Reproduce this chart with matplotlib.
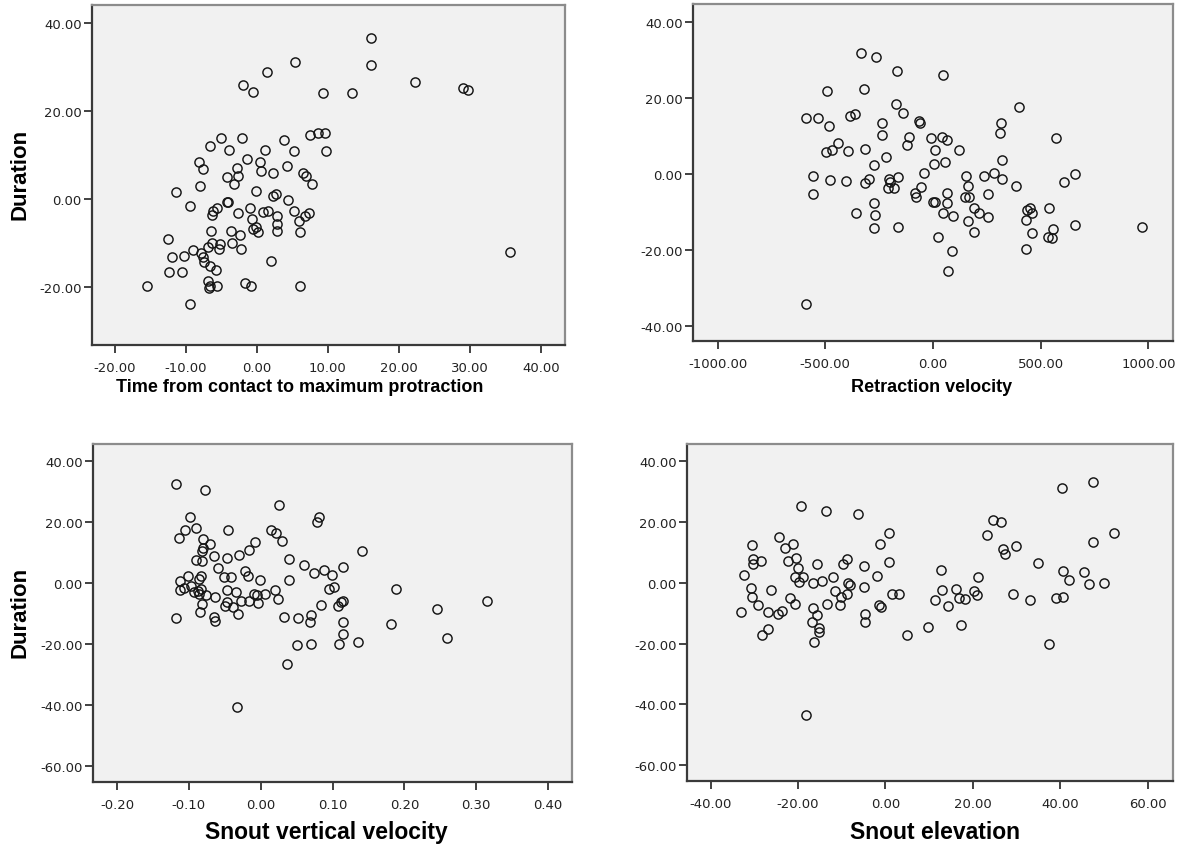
import numpy as np
import matplotlib
matplotlib.use("Agg")
import matplotlib.pyplot as plt
from matplotlib.ticker import FormatStrFormatter

# Duration vs. time from contact to maximum protraction
time_contact = [5.35, 1.41, -1.89, -0.48, 16.05, 16.1, 22.3, 29.1, 29.7, 9.36, 13.36, 7.53, 8.56, 9.65,
                9.69, 3.8, 5.2, 4.3, 6.5, 6.9, 7.8, 4.4, 5.3, 6.0, 6.1, 6.8, 7.3, 6.1, 35.7,
                2.02, -5.08, -6.6, -2.08, -3.87, 1.13, -8.1, -7.54, -1.41, 0.47, 0.56, 2.26, -2.74,
                -4.15, -2.6, -3.25, -8.0, -11.4, -0.1, -9.4, -4.15, -4.0, -6.2, -5.65, -6.36, -0.95,
                -2.6, -0.62, 0.94, 1.64, 2.35, 2.67, 2.8, 2.8, 2.8, -0.48, 0.13, -0.1, -6.4, -3.6,
                -2.4, -12.5, -3.5, -2.2, -5.2, -5.3, -6.36, -6.8, -8.95, -10.2, -11.9, -7.87, -7.6,
                -7.44, -6.6, -5.75, -12.4, -10.55, -6.8, -6.6, -5.65, -6.7, -1.65, -0.85, -15.45, -9.43]
dur_1 = [31.1, 28.8, 25.9, 24.4, 36.5, 30.5, 26.5, 25.2, 24.8, 24.1, 24.1, 14.6, 14.9, 14.9,
         10.9, 13.4, 10.8, 7.5, 6.0, 5.3, 3.3, -0.3, -2.8, -5.1, -7.4, -3.9, -3.3, -19.7, -12.1,
         -14.2, 13.8, 12.1, 13.8, 11.1, 11.1, 8.5, 6.8, 9.0, 8.5, 6.3, 5.9, 7.1,
         5.1, 5.2, 3.4, 3.0, 1.5, 1.9, -1.7, -0.75, -0.6, -2.7, -2.1, -3.6, -2.1,
         -3.2, -4.5, -3.0, -2.7, 0.76, 1.1, -3.8, -5.7, -7.2, -6.8, -7.6, -6.4, -7.3, -7.2,
         -8.3, -9.1, -10.1, -11.4, -10.2, -11.4, -9.9, -11.0, -11.7, -12.9, -13.3, -12.3, -13.3,
         -14.4, -15.2, -16.1, -16.7, -16.5, -18.6, -19.7, -19.8, -20.3, -19.1, -19.8, -19.8, -23.9]

# Duration vs. retraction velocity
retraction = [-336, -265, -494, -320, -591, -533, -483, -385, -362, -237, -237, -440, -470, -498,
              -396, -314, -275, -220, -559, -478, -404, -296, -314, -206, -199, -207, -181, -164,
              -556, -359, -274, -269, -274, -588,
              -166, 45, 401, -172, -138, -65, -60, 314, 311, 571, -110, -119, -9, 40, 64, 9, 121,
              6, 57, 319, -43, 153, 237, 285, 320,
              -56, -82, -79, 1, 8, 64, 64, 45, 94, 164, 149, 167, 383, 253, 192, 215, 253, 161,
              191, 25, 90, 71, -163,
              435, 458, 450, 432, 461, 430, 540, 559, 536, 551, 610, 657, 658, 972]
dur_2 = [32.0, 30.9, 22.0, 22.3, 14.7, 14.8, 12.6, 15.2, 15.9, 13.4, 10.3, 8.1, 6.5, 5.8,
         6.0, 6.7, 2.3, 4.5, -0.6, -1.5, -1.9, -1.2, -2.4, -1.2, -2.0, -3.5, -3.7, -0.8,
         -5.2, -10.3, -7.7, -10.7, -14.2, -34.1,
         27.2, 26.1, 17.8, 18.4, 16.1, 14.1, 13.6, 13.5, 10.8, 9.5, 9.9, 7.7, 9.5, 9.8, 8.9, 6.5, 6.4,
         2.7, 3.1, 3.8, 0.45, -0.5, -0.6, 0.3, -1.3,
         -3.3, -4.9, -5.9, -7.2, -7.4, -4.9, -7.7, -10.3, -11.1, -3.0, -5.9, -6.1, -3.0, -5.2, -8.8,
         -10.3, -11.2, -12.2, -15.1, -16.4, -20.2, -25.6, -13.9,
         -9.4, -10.1, -9.0, -12.0, -15.6, -19.8, -8.9, -14.4, -16.4, -16.8, -2.1, 0.1, -13.4, -14.0]

# Duration vs. snout vertical velocity
snout_vel = [-0.118, -0.0776, 0.026, 0.0816, 0.079, -0.099, -0.105, -0.090, -0.114, -0.045, 0.0143,
             0.0213, 0.030, -0.0079, -0.0159, -0.080, -0.0706, -0.080, -0.081, -0.0298, -0.047,
             -0.0646, -0.090, -0.081, 0.039, 0.1407, -0.060, 0.060, 0.115, 0.0747, 0.0886, 0.0993,
             -0.0214, -0.018, -0.0515, -0.0414, -0.0006, 0.039, -0.0831, -0.0864, -0.1017, -0.1128,
             -0.1124, -0.1064, -0.097, -0.0925, -0.0877, -0.0855, -0.0831, -0.0762, -0.0636, -0.0474,
             -0.0344, -0.047, -0.039, -0.049, -0.0274, -0.0159, -0.0089, -0.0056, -0.0033, 0.006,
             0.0199, 0.0237, -0.081, -0.0841, -0.0312, -0.1175, -0.0646, -0.0636, 0.0329, 0.0515,
             0.070, 0.0687, 0.084, 0.1072, 0.114, 0.112, 0.1026, 0.0955, 0.114, 0.114, 0.1095, 0.136,
             0.050, 0.070, 0.1884, 0.3148, 0.2455, 0.1815, 0.2595, 0.0366, -0.0334]
dur_3 = [32.6, 30.7, 25.8, 21.6, 20.0, 21.8, 17.6, 18.0, 14.9, 17.5, 17.6,
         16.5, 14.0, 13.4, 10.9, 14.5, 12.9, 11.5, 10.7, 9.3, 8.3,
         8.8, 7.7, 7.4, 8.0, 10.7, 5.0, 6.1, 5.4, 3.4, 4.5, 2.7,
         4.1, 2.3, 2.2, 2.0, 1.1, 1.1, 2.5, 1.4, 2.5, 0.85,
         -2.1, -1.5, -0.8, -2.8, -2.4, -3.5, -1.9, -3.8, -4.6, -2.2,
         -2.7, -6.2, -7.7, -7.3, -5.8, -5.7, -3.5, -3.8, -6.6, -3.5,
         -2.1, -5.1, -6.8, -9.3, -10.1, -11.4, -11.1, -12.3, -10.9, -11.4,
         -10.4, -12.8, -7.1, -7.3, -5.7, -6.0, -1.3, -1.9, -12.8, -16.8, -19.9, -19.3,
         -20.1, -19.9, -1.9, -5.7, -8.4, -13.3, -17.8, -26.5, -40.5]

# Duration vs. snout elevation
snout_elev = [-19.3, -13.6, -6.2, 0.85, -1.2, -24.3, -21.2, -23.0, -30.5, -30.2, -30.2, -28.5, -20.5,
              -22.4, -20.0, -15.7, -8.8, -9.6, -4.8, 0.85, -2.0, -32.3, -20.7, -19.7, -18.8, -16.6,
              -14.4, -11.9, -8.6, -8.1, -11.5, -8.7, -10.1, -4.9, -30.7, -26.2, -30.6, -29.1, -21.8,
              -20.8, -13.4, -10.4, -16.6, -15.6, -16.8, -15.3, -15.3, -26.8, -24.6, -23.7, -33.0,
              -26.8, -28.3, 1.5, 3.0, -1.4, -1.0, -4.6, -4.6, 5.0, -16.3, -18.1,
              9.8, 11.4, 12.7, 12.9, 14.4, 16.2, 16.9, 18.1, 17.3, 20.3, 21.0, 21.2, 23.2, 24.7, 26.4,
              26.9, 27.4, 29.8, 29.2, 33.1, 34.9, 37.5, 39.0, 40.6, 40.3, 47.6, 40.7, 41.9, 45.5, 46.5,
              47.5, 49.9, 52.3]
dur_4 = [25.4, 23.5, 22.5, 16.5, 12.9, 15.1, 12.9, 11.6, 12.3, 8.0, 6.3, 7.1, 8.3,
         7.1, 5.0, 6.3, 7.7, 6.1, 5.6, 6.9, 2.3, 2.7, 2.0, 0.3, 2.0, 0.0,
         0.75, 1.8, 0.1, -0.8, -2.6, -3.8, -4.8, -1.5, -1.6, -2.2, -4.7, -7.3, -5.1,
         -6.8, -7.1, -7.3, -8.4, -10.6, -13.0, -15.0, -16.1, -9.7, -10.1, -9.2, -9.5,
         -15.2, -17.2, -3.7, -3.5, -7.3, -7.9, -10.1, -12.8, -17.2, -19.3, -43.4,
         -14.4, -5.7, 4.4, -2.4, -7.5, -1.9, -4.9, -5.4, -13.9, -2.7, -4.1, 2.0, 15.9, 20.8, 20.0,
         11.0, 9.4, 12.2, -3.6, -5.7, 6.7, -20.1, -4.9, -4.6, 31.2, 33.1, 3.9, 0.85, 3.6, -0.45,
         13.6, -0.1, 16.4]

W, H = 1181, 845
fig = plt.figure(figsize=(W / 100, H / 100), dpi=100)
fig.patch.set_facecolor('white')


def panel(box, x, y, xlim, ylim, xticks, yticks):
    x0, y0, x1, y1 = box
    ax = fig.add_axes([x0 / W, 1 - y1 / H, (x1 - x0) / W, (y1 - y0) / H])
    ax.set_facecolor('#f1f1f1')
    ax.plot(x, y, 'o', ms=6.6, mfc='none', mec='#151515', mew=1.05)
    ax.set_xlim(*xlim)
    ax.set_ylim(*ylim)
    ax.set_xticks(xticks)
    ax.set_yticks(yticks)
    ax.xaxis.set_major_formatter(FormatStrFormatter('%.2f'))
    ax.yaxis.set_major_formatter(FormatStrFormatter('%.2f'))
    ax.tick_params(direction='out', length=5.5, width=1.3, color='#333333',
                   labelsize=9.5, labelcolor='#222222', pad=2)
    ax.tick_params(axis='x', pad=6)
    for s in ['left', 'bottom']:
        ax.spines[s].set_color('#3a3a3a')
        ax.spines[s].set_linewidth(1.6)
    for s in ['top', 'right']:
        ax.spines[s].set_color('#8c8c8c')
        ax.spines[s].set_linewidth(1.6)
    return ax


panel((92, 6, 565, 346), time_contact, dur_1, (-23.2, 43.4), (-33.2, 44.1),
      [-20, -10, 0, 10, 20, 30, 40], [-20, 0, 20, 40])
panel((693, 5, 1173, 342), retraction, dur_2, (-1114, 1114), (-43.9, 44.8),
      [-1000, -500, 0, 500, 1000], [-40, -20, 0, 20, 40])
panel((93, 445, 572, 783), snout_vel, dur_3, (-0.2334, 0.4334), (-65.2, 45.7),
      [-0.2, -0.1, 0.0, 0.1, 0.2, 0.3, 0.4], [-60, -40, -20, 0, 20, 40])
panel((687, 445, 1173, 782), snout_elev, dur_4, (-45.4, 65.8), (-65.2, 45.7),
      [-40, -20, 0, 20, 40, 60], [-60, -40, -20, 0, 20, 40])

lab = dict(family=['Liberation Sans', 'DejaVu Sans'], weight='bold', color='black',
           ha='center', va='center')
fig.text(300 / W, 1 - 388 / H, 'Time from contact to maximum protraction', fontsize=13, **lab)
fig.text(932 / W, 1 - 388 / H, 'Retraction velocity', fontsize=13, **lab)
fig.text(326 / W, 1 - 833 / H, 'Snout vertical velocity', fontsize=16.5, **lab)
fig.text(935 / W, 1 - 833 / H, 'Snout elevation', fontsize=16.5, **lab)
fig.text(20 / W, 1 - 174 / H, 'Duration', fontsize=16, rotation=90, **lab)
fig.text(20 / W, 1 - 612 / H, 'Duration', fontsize=16, rotation=90, **lab)

fig.savefig('out.png', dpi=100)
